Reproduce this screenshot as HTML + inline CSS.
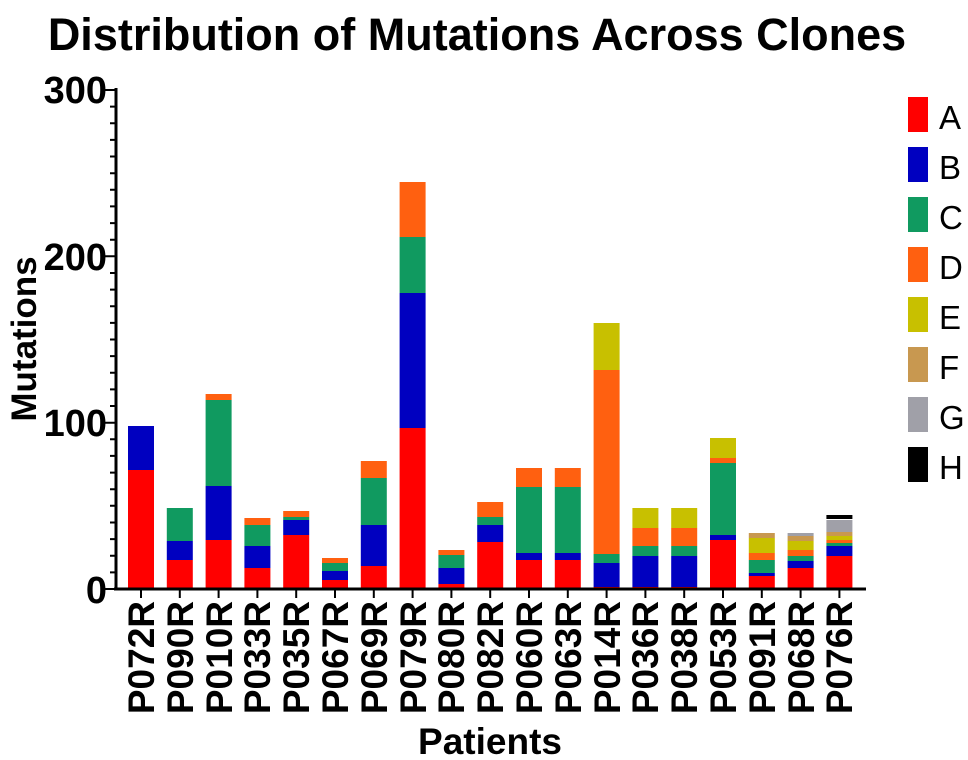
<!DOCTYPE html>
<html><head><meta charset="utf-8"><style>
html,body{margin:0;padding:0;background:#fff;}
svg{display:block;font-family:"Liberation Sans",Arial,sans-serif;}
</style></head><body>
<svg width="968" height="760" viewBox="0 0 968 760" xmlns="http://www.w3.org/2000/svg">
<text x="477" y="50" text-anchor="middle" font-size="45" font-weight="bold">Distribution of Mutations Across Clones</text>
<g>
<rect x="128" y="470" width="26" height="119" fill="#ff0000"/><rect x="128" y="426" width="26" height="44" fill="#0000c0"/>
<rect x="166.8" y="560" width="26" height="29" fill="#ff0000"/><rect x="166.8" y="541" width="26" height="19" fill="#0000c0"/><rect x="166.8" y="508" width="26" height="33" fill="#109a60"/>
<rect x="205.6" y="540" width="26" height="49" fill="#ff0000"/><rect x="205.6" y="486" width="26" height="54" fill="#0000c0"/><rect x="205.6" y="400" width="26" height="86" fill="#109a60"/><rect x="205.6" y="394" width="26" height="6" fill="#ff6010"/>
<rect x="244.4" y="568" width="26" height="21" fill="#ff0000"/><rect x="244.4" y="546" width="26" height="22" fill="#0000c0"/><rect x="244.4" y="525" width="26" height="21" fill="#109a60"/><rect x="244.4" y="518" width="26" height="7" fill="#ff6010"/>
<rect x="283.2" y="535" width="26" height="54" fill="#ff0000"/><rect x="283.2" y="520" width="26" height="15" fill="#0000c0"/><rect x="283.2" y="517" width="26" height="3" fill="#109a60"/><rect x="283.2" y="511" width="26" height="6" fill="#ff6010"/>
<rect x="322" y="580" width="26" height="9" fill="#ff0000"/><rect x="322" y="571" width="26" height="9" fill="#0000c0"/><rect x="322" y="563" width="26" height="8" fill="#109a60"/><rect x="322" y="558" width="26" height="5" fill="#ff6010"/>
<rect x="360.8" y="566" width="26" height="23" fill="#ff0000"/><rect x="360.8" y="525" width="26" height="41" fill="#0000c0"/><rect x="360.8" y="478" width="26" height="47" fill="#109a60"/><rect x="360.8" y="461" width="26" height="17" fill="#ff6010"/>
<rect x="399.6" y="428" width="26" height="161" fill="#ff0000"/><rect x="399.6" y="293" width="26" height="135" fill="#0000c0"/><rect x="399.6" y="237" width="26" height="56" fill="#109a60"/><rect x="399.6" y="182" width="26" height="55" fill="#ff6010"/>
<rect x="438.4" y="584" width="26" height="5" fill="#ff0000"/><rect x="438.4" y="568" width="26" height="16" fill="#0000c0"/><rect x="438.4" y="555" width="26" height="13" fill="#109a60"/><rect x="438.4" y="550" width="26" height="5" fill="#ff6010"/>
<rect x="477.2" y="542" width="26" height="47" fill="#ff0000"/><rect x="477.2" y="525" width="26" height="17" fill="#0000c0"/><rect x="477.2" y="517" width="26" height="8" fill="#109a60"/><rect x="477.2" y="502" width="26" height="15" fill="#ff6010"/>
<rect x="516" y="560" width="26" height="29" fill="#ff0000"/><rect x="516" y="553" width="26" height="7" fill="#0000c0"/><rect x="516" y="487" width="26" height="66" fill="#109a60"/><rect x="516" y="468" width="26" height="19" fill="#ff6010"/>
<rect x="554.8" y="560" width="26" height="29" fill="#ff0000"/><rect x="554.8" y="553" width="26" height="7" fill="#0000c0"/><rect x="554.8" y="487" width="26" height="66" fill="#109a60"/><rect x="554.8" y="468" width="26" height="19" fill="#ff6010"/>
<rect x="593.6" y="587" width="26" height="2" fill="#ff0000"/><rect x="593.6" y="563" width="26" height="24" fill="#0000c0"/><rect x="593.6" y="554" width="26" height="9" fill="#109a60"/><rect x="593.6" y="370" width="26" height="184" fill="#ff6010"/><rect x="593.6" y="323" width="26" height="47" fill="#c8c000"/>
<rect x="632.4" y="587" width="26" height="2" fill="#ff0000"/><rect x="632.4" y="556" width="26" height="31" fill="#0000c0"/><rect x="632.4" y="546" width="26" height="10" fill="#109a60"/><rect x="632.4" y="528" width="26" height="18" fill="#ff6010"/><rect x="632.4" y="508" width="26" height="20" fill="#c8c000"/>
<rect x="671.2" y="587" width="26" height="2" fill="#ff0000"/><rect x="671.2" y="556" width="26" height="31" fill="#0000c0"/><rect x="671.2" y="546" width="26" height="10" fill="#109a60"/><rect x="671.2" y="528" width="26" height="18" fill="#ff6010"/><rect x="671.2" y="508" width="26" height="20" fill="#c8c000"/>
<rect x="710" y="540" width="26" height="49" fill="#ff0000"/><rect x="710" y="535" width="26" height="5" fill="#0000c0"/><rect x="710" y="463" width="26" height="72" fill="#109a60"/><rect x="710" y="458" width="26" height="5" fill="#ff6010"/><rect x="710" y="438" width="26" height="20" fill="#c8c000"/>
<rect x="748.8" y="576" width="26" height="13" fill="#ff0000"/><rect x="748.8" y="573" width="26" height="3" fill="#0000c0"/><rect x="748.8" y="560" width="26" height="13" fill="#109a60"/><rect x="748.8" y="553" width="26" height="7" fill="#ff6010"/><rect x="748.8" y="538" width="26" height="15" fill="#c8c000"/><rect x="748.8" y="533" width="26" height="5" fill="#c89850"/>
<rect x="787.6" y="568" width="26" height="21" fill="#ff0000"/><rect x="787.6" y="561" width="26" height="7" fill="#0000c0"/><rect x="787.6" y="556" width="26" height="5" fill="#109a60"/><rect x="787.6" y="550" width="26" height="6" fill="#ff6010"/><rect x="787.6" y="541" width="26" height="9" fill="#c8c000"/><rect x="787.6" y="536" width="26" height="5" fill="#c89850"/><rect x="787.6" y="533" width="26" height="3" fill="#a0a0a8"/>
<rect x="826.4" y="556" width="26" height="33" fill="#ff0000"/><rect x="826.4" y="546" width="26" height="10" fill="#0000c0"/><rect x="826.4" y="543" width="26" height="3" fill="#109a60"/><rect x="826.4" y="540" width="26" height="3" fill="#ff6010"/><rect x="826.4" y="536" width="26" height="4" fill="#c8c000"/><rect x="826.4" y="532" width="26" height="4" fill="#c89850"/><rect x="826.4" y="520" width="26" height="12" fill="#a0a0a8"/><rect x="826.4" y="515" width="26" height="4" fill="#000000"/>
</g>
<g stroke="#000" stroke-width="3">
<line x1="116" y1="88" x2="116" y2="590"/>
<line x1="114" y1="589" x2="866" y2="589"/>
</g>
<path stroke="#000" stroke-width="2" fill="none" d="M104 589H116M110 572.4H116M110 555.7H116M110 539.1H116M110 522.5H116M110 505.8H116M110 489.2H116M110 472.6H116M110 455.9H116M110 439.3H116M104 422.7H116M110 406H116M110 389.4H116M110 372.8H116M110 356.1H116M110 339.5H116M110 322.9H116M110 306.2H116M110 289.6H116M110 273H116M104 256.3H116M110 239.7H116M110 223.1H116M110 206.4H116M110 189.8H116M110 173.2H116M110 156.5H116M110 139.9H116M110 123.3H116M110 106.6H116M104 90H116
M141 589V598M179.8 589V598M218.6 589V598M257.4 589V598M296.2 589V598M335 589V598M373.8 589V598M412.6 589V598M451.4 589V598M490.2 589V598M529 589V598M567.8 589V598M606.6 589V598M645.4 589V598M684.2 589V598M723 589V598M761.8 589V598M800.6 589V598M839.4 589V598"/>
<g font-size="38" font-weight="bold" text-anchor="end">
<text x="107" y="603">0</text>
<text x="107" y="436">100</text>
<text x="107" y="270">200</text>
<text x="107" y="103">300</text>
</g>
<text transform="translate(36,339) rotate(-90)" text-anchor="middle" font-size="35" font-weight="bold">Mutations</text>
<text x="490" y="754" text-anchor="middle" font-size="37" font-weight="bold">Patients</text>
<g font-size="37" font-weight="bold" text-anchor="end">
<text transform="translate(154,601) rotate(-90)">P072R</text>
<text transform="translate(193,601) rotate(-90)">P090R</text>
<text transform="translate(232,601) rotate(-90)">P010R</text>
<text transform="translate(270,601) rotate(-90)">P033R</text>
<text transform="translate(309,601) rotate(-90)">P035R</text>
<text transform="translate(348,601) rotate(-90)">P067R</text>
<text transform="translate(387,601) rotate(-90)">P069R</text>
<text transform="translate(426,601) rotate(-90)">P079R</text>
<text transform="translate(464,601) rotate(-90)">P080R</text>
<text transform="translate(503,601) rotate(-90)">P082R</text>
<text transform="translate(542,601) rotate(-90)">P060R</text>
<text transform="translate(581,601) rotate(-90)">P063R</text>
<text transform="translate(620,601) rotate(-90)">P014R</text>
<text transform="translate(658,601) rotate(-90)">P036R</text>
<text transform="translate(697,601) rotate(-90)">P038R</text>
<text transform="translate(736,601) rotate(-90)">P053R</text>
<text transform="translate(775,601) rotate(-90)">P091R</text>
<text transform="translate(814,601) rotate(-90)">P068R</text>
<text transform="translate(852,601) rotate(-90)">P076R</text>
</g>
<g font-size="33">
<rect x="908" y="97" width="20" height="35" fill="#ff0000"/><text x="939" y="129">A</text>
<rect x="908" y="147" width="20" height="35" fill="#0000c0"/><text x="939" y="179">B</text>
<rect x="908" y="197" width="20" height="35" fill="#109a60"/><text x="939" y="229">C</text>
<rect x="908" y="247" width="20" height="35" fill="#ff6010"/><text x="939" y="279">D</text>
<rect x="908" y="297" width="20" height="35" fill="#c8c000"/><text x="939" y="329">E</text>
<rect x="908" y="347" width="20" height="35" fill="#c89850"/><text x="939" y="379">F</text>
<rect x="908" y="397" width="20" height="35" fill="#a0a0a8"/><text x="939" y="429">G</text>
<rect x="908" y="447" width="20" height="35" fill="#000000"/><text x="939" y="479">H</text>
</g>
</svg>
</body></html>
